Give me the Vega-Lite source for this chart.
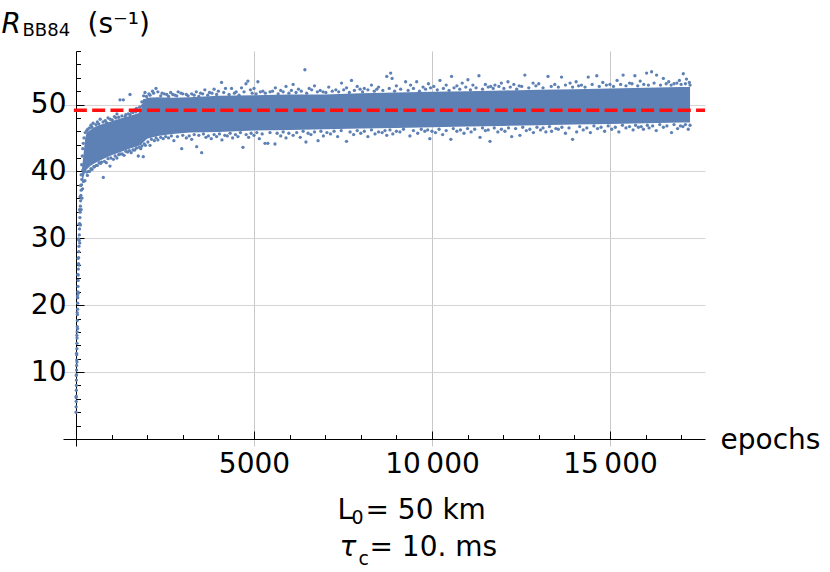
{
  "$schema": "https://vega.github.io/schema/vega-lite/v6.json",
  "width": 642,
  "height": 395,
  "autosize": {"type": "none"},
  "padding": {"left": 63, "top": 51, "right": 125, "bottom": 126},
  "background": "white",
  "config": {
    "view": {"stroke": null},
    "font": "DejaVu Sans",
    "axis": {"labelFont": "DejaVu Sans", "titleFont": "DejaVu Sans", "labelColor": "black", "titleColor": "black", "tickColor": "black", "domainColor": "black", "titleFontWeight": "normal"}
  },
  "datasets": {
    "band": [
      {"epoch": 170, "lo": 38.0, "hi": 40.5},
      {"epoch": 220, "lo": 39.3, "hi": 43.0},
      {"epoch": 260, "lo": 39.9, "hi": 45.0},
      {"epoch": 300, "lo": 40.3, "hi": 45.8},
      {"epoch": 400, "lo": 40.8, "hi": 46.2},
      {"epoch": 550, "lo": 41.3, "hi": 46.7},
      {"epoch": 750, "lo": 41.8, "hi": 47.1},
      {"epoch": 1000, "lo": 42.4, "hi": 47.5},
      {"epoch": 1250, "lo": 42.9, "hi": 47.9},
      {"epoch": 1500, "lo": 43.4, "hi": 48.3},
      {"epoch": 1750, "lo": 43.8, "hi": 48.7},
      {"epoch": 1830, "lo": 44.0, "hi": 49.2},
      {"epoch": 1880, "lo": 44.3, "hi": 50.6},
      {"epoch": 2000, "lo": 44.9, "hi": 51.0},
      {"epoch": 2300, "lo": 45.3, "hi": 51.1},
      {"epoch": 2700, "lo": 45.6, "hi": 51.0},
      {"epoch": 3200, "lo": 45.8, "hi": 51.1},
      {"epoch": 4000, "lo": 45.9, "hi": 51.3},
      {"epoch": 5000, "lo": 46.1, "hi": 51.4},
      {"epoch": 6000, "lo": 46.2, "hi": 51.5},
      {"epoch": 7000, "lo": 46.3, "hi": 51.5},
      {"epoch": 8000, "lo": 46.4, "hi": 51.7},
      {"epoch": 9000, "lo": 46.5, "hi": 51.8},
      {"epoch": 10000, "lo": 46.6, "hi": 51.9},
      {"epoch": 11000, "lo": 46.7, "hi": 52.0},
      {"epoch": 12000, "lo": 46.8, "hi": 52.1},
      {"epoch": 13000, "lo": 46.9, "hi": 52.2},
      {"epoch": 14000, "lo": 47.0, "hi": 52.3},
      {"epoch": 15000, "lo": 47.1, "hi": 52.4},
      {"epoch": 16000, "lo": 47.2, "hi": 52.5},
      {"epoch": 17000, "lo": 47.3, "hi": 52.6},
      {"epoch": 17250, "lo": 47.3, "hi": 52.6}
    ],
    "edgeHigh": [
      {"epoch": 260, "rate": 45.8}, {"epoch": 330, "rate": 46.3}, {"epoch": 420, "rate": 46.9}, {"epoch": 480, "rate": 47.2},
      {"epoch": 600, "rate": 47.4}, {"epoch": 680, "rate": 47.8}, {"epoch": 820, "rate": 47.6}, {"epoch": 900, "rate": 48.0},
      {"epoch": 1080, "rate": 48.2}, {"epoch": 1150, "rate": 48.6}, {"epoch": 1236, "rate": 50.7}, {"epoch": 1330, "rate": 50.7},
      {"epoch": 1400, "rate": 48.5}, {"epoch": 1517, "rate": 51.5}, {"epoch": 1560, "rate": 48.9}, {"epoch": 1650, "rate": 49.2},
      {"epoch": 1700, "rate": 49.4}, {"epoch": 1790, "rate": 49.6}, {"epoch": 1850, "rate": 50.4}, {"epoch": 1900, "rate": 51.3},
      {"epoch": 1938, "rate": 51.8}, {"epoch": 2050, "rate": 51.6}, {"epoch": 2150, "rate": 52.0}, {"epoch": 2247, "rate": 52.4},
      {"epoch": 2300, "rate": 51.9}, {"epoch": 2420, "rate": 51.7}, {"epoch": 2550, "rate": 51.5}, {"epoch": 2660, "rate": 51.8},
      {"epoch": 2780, "rate": 51.4}, {"epoch": 2870, "rate": 51.9}, {"epoch": 2950, "rate": 51.7}, {"epoch": 3100, "rate": 51.5},
      {"epoch": 3250, "rate": 51.6}, {"epoch": 3380, "rate": 51.9}, {"epoch": 3500, "rate": 51.7}, {"epoch": 3620, "rate": 52.2},
      {"epoch": 3750, "rate": 51.8}, {"epoch": 3880, "rate": 52.3}, {"epoch": 4000, "rate": 52.0}, {"epoch": 4090, "rate": 53.3},
      {"epoch": 4200, "rate": 52.4}, {"epoch": 4370, "rate": 52.4}, {"epoch": 4500, "rate": 51.9}, {"epoch": 4650, "rate": 52.5},
      {"epoch": 4775, "rate": 53.1}, {"epoch": 4830, "rate": 53.5}, {"epoch": 4900, "rate": 52.2}, {"epoch": 5000, "rate": 52.4},
      {"epoch": 5110, "rate": 53.4}, {"epoch": 5250, "rate": 52.0}, {"epoch": 5450, "rate": 51.9}, {"epoch": 5600, "rate": 52.5},
      {"epoch": 5750, "rate": 52.1}, {"epoch": 5900, "rate": 52.7}, {"epoch": 6100, "rate": 53.0}, {"epoch": 6250, "rate": 52.3},
      {"epoch": 6430, "rate": 55.2}, {"epoch": 6550, "rate": 52.4}, {"epoch": 6700, "rate": 52.8}, {"epoch": 6940, "rate": 51.9},
      {"epoch": 7100, "rate": 52.6}, {"epoch": 7300, "rate": 52.2}, {"epoch": 7460, "rate": 53.2}, {"epoch": 7600, "rate": 52.5},
      {"epoch": 7740, "rate": 53.6}, {"epoch": 7900, "rate": 52.7}, {"epoch": 8100, "rate": 52.4}, {"epoch": 8300, "rate": 52.9},
      {"epoch": 8500, "rate": 52.6}, {"epoch": 8730, "rate": 54.2}, {"epoch": 8840, "rate": 54.7}, {"epoch": 8880, "rate": 53.9},
      {"epoch": 9000, "rate": 52.8}, {"epoch": 9260, "rate": 53.4}, {"epoch": 9400, "rate": 52.9}, {"epoch": 9570, "rate": 53.4},
      {"epoch": 9750, "rate": 52.6}, {"epoch": 9900, "rate": 53.1}, {"epoch": 10050, "rate": 52.7}, {"epoch": 10225, "rate": 53.6},
      {"epoch": 10400, "rate": 52.9}, {"epoch": 10550, "rate": 54.2}, {"epoch": 10700, "rate": 52.8}, {"epoch": 10850, "rate": 53.2},
      {"epoch": 11010, "rate": 53.7}, {"epoch": 11150, "rate": 52.9}, {"epoch": 11320, "rate": 54.3}, {"epoch": 11500, "rate": 53.0},
      {"epoch": 11650, "rate": 52.7}, {"epoch": 11770, "rate": 52.9}, {"epoch": 11950, "rate": 53.2}, {"epoch": 12135, "rate": 53.4},
      {"epoch": 12300, "rate": 53.0}, {"epoch": 12450, "rate": 52.8}, {"epoch": 12610, "rate": 54.4}, {"epoch": 12840, "rate": 53.2},
      {"epoch": 13000, "rate": 53.1}, {"epoch": 13260, "rate": 54.2}, {"epoch": 13450, "rate": 53.0}, {"epoch": 13640, "rate": 54.1},
      {"epoch": 13880, "rate": 53.2}, {"epoch": 14050, "rate": 53.4}, {"epoch": 14200, "rate": 52.9}, {"epoch": 14390, "rate": 54.1},
      {"epoch": 14630, "rate": 54.3}, {"epoch": 14800, "rate": 53.3}, {"epoch": 15000, "rate": 53.0}, {"epoch": 15200, "rate": 53.6},
      {"epoch": 15370, "rate": 54.4}, {"epoch": 15550, "rate": 53.2}, {"epoch": 15700, "rate": 54.3}, {"epoch": 15850, "rate": 53.5},
      {"epoch": 16030, "rate": 54.7}, {"epoch": 16170, "rate": 54.9}, {"epoch": 16310, "rate": 54.4}, {"epoch": 16500, "rate": 53.9},
      {"epoch": 16650, "rate": 53.4}, {"epoch": 16800, "rate": 53.1}, {"epoch": 16950, "rate": 53.6}, {"epoch": 17060, "rate": 54.6},
      {"epoch": 17150, "rate": 53.8}, {"epoch": 17230, "rate": 53.3},
      {"epoch": 300, "rate": 46.1}, {"epoch": 380, "rate": 46.5}, {"epoch": 450, "rate": 46.6}, {"epoch": 560, "rate": 47.0},
      {"epoch": 640, "rate": 47.1}, {"epoch": 760, "rate": 47.4}, {"epoch": 860, "rate": 47.3}, {"epoch": 960, "rate": 47.8},
      {"epoch": 1020, "rate": 47.7}, {"epoch": 1120, "rate": 48.0}, {"epoch": 1200, "rate": 48.1}, {"epoch": 1290, "rate": 48.3},
      {"epoch": 1380, "rate": 48.2}, {"epoch": 1470, "rate": 48.6}, {"epoch": 1520, "rate": 48.5}, {"epoch": 1600, "rate": 48.8},
      {"epoch": 1680, "rate": 48.9}, {"epoch": 1760, "rate": 49.1}, {"epoch": 1860, "rate": 49.8}, {"epoch": 1920, "rate": 50.6},
      {"epoch": 1980, "rate": 51.2}, {"epoch": 2080, "rate": 51.4}, {"epoch": 2180, "rate": 51.7}, {"epoch": 2380, "rate": 51.3},
      {"epoch": 2480, "rate": 51.6}, {"epoch": 2600, "rate": 51.2}, {"epoch": 2720, "rate": 51.5}, {"epoch": 2830, "rate": 51.3},
      {"epoch": 3000, "rate": 51.6}, {"epoch": 3150, "rate": 51.3}, {"epoch": 3320, "rate": 51.4}, {"epoch": 3450, "rate": 51.2},
      {"epoch": 3560, "rate": 51.6}, {"epoch": 3700, "rate": 51.4}, {"epoch": 3820, "rate": 51.7}, {"epoch": 3950, "rate": 51.5},
      {"epoch": 4150, "rate": 51.8}, {"epoch": 4300, "rate": 51.5}, {"epoch": 4450, "rate": 51.7}, {"epoch": 4580, "rate": 51.4},
      {"epoch": 4720, "rate": 51.9}, {"epoch": 4950, "rate": 51.7}, {"epoch": 5060, "rate": 51.6}, {"epoch": 5180, "rate": 51.9},
      {"epoch": 5320, "rate": 51.7}, {"epoch": 5520, "rate": 52.0}, {"epoch": 5680, "rate": 51.6}, {"epoch": 5820, "rate": 51.9},
      {"epoch": 5980, "rate": 51.7}, {"epoch": 6050, "rate": 52.1}, {"epoch": 6180, "rate": 51.8}, {"epoch": 6330, "rate": 52.0},
      {"epoch": 6480, "rate": 51.7}, {"epoch": 6620, "rate": 52.2}, {"epoch": 6780, "rate": 51.9}, {"epoch": 6860, "rate": 52.1},
      {"epoch": 7020, "rate": 51.8}, {"epoch": 7200, "rate": 52.0}, {"epoch": 7380, "rate": 51.9}, {"epoch": 7520, "rate": 52.2},
      {"epoch": 7680, "rate": 51.8}, {"epoch": 7820, "rate": 52.1}, {"epoch": 7980, "rate": 52.3}, {"epoch": 8050, "rate": 51.9},
      {"epoch": 8200, "rate": 52.2}, {"epoch": 8380, "rate": 52.0}, {"epoch": 8450, "rate": 52.3}, {"epoch": 8620, "rate": 52.1},
      {"epoch": 8800, "rate": 52.4}, {"epoch": 8950, "rate": 52.0}, {"epoch": 9120, "rate": 52.3}, {"epoch": 9330, "rate": 52.1},
      {"epoch": 9480, "rate": 52.4}, {"epoch": 9650, "rate": 52.0}, {"epoch": 9820, "rate": 52.3}, {"epoch": 9960, "rate": 52.5},
      {"epoch": 10150, "rate": 52.2}, {"epoch": 10320, "rate": 52.4}, {"epoch": 10480, "rate": 52.1}, {"epoch": 10620, "rate": 52.5},
      {"epoch": 10780, "rate": 52.3}, {"epoch": 10950, "rate": 52.6}, {"epoch": 11080, "rate": 52.2}, {"epoch": 11240, "rate": 52.5},
      {"epoch": 11420, "rate": 52.3}, {"epoch": 11580, "rate": 52.6}, {"epoch": 11720, "rate": 52.4}, {"epoch": 11880, "rate": 52.7},
      {"epoch": 12020, "rate": 52.4}, {"epoch": 12200, "rate": 52.6}, {"epoch": 12380, "rate": 52.3}, {"epoch": 12520, "rate": 52.7},
      {"epoch": 12720, "rate": 52.5}, {"epoch": 12920, "rate": 52.8}, {"epoch": 13120, "rate": 52.5}, {"epoch": 13350, "rate": 52.7},
      {"epoch": 13550, "rate": 52.6}, {"epoch": 13750, "rate": 52.9}, {"epoch": 13950, "rate": 52.6}, {"epoch": 14120, "rate": 52.8},
      {"epoch": 14300, "rate": 52.6}, {"epoch": 14500, "rate": 53.0}, {"epoch": 14700, "rate": 52.7}, {"epoch": 14900, "rate": 52.9},
      {"epoch": 15100, "rate": 52.7}, {"epoch": 15300, "rate": 53.0}, {"epoch": 15450, "rate": 52.8}, {"epoch": 15620, "rate": 53.1},
      {"epoch": 15780, "rate": 52.8}, {"epoch": 15950, "rate": 53.0}, {"epoch": 16080, "rate": 52.9}, {"epoch": 16240, "rate": 53.2},
      {"epoch": 16420, "rate": 52.9}, {"epoch": 16580, "rate": 53.1}, {"epoch": 16720, "rate": 52.9}, {"epoch": 16880, "rate": 53.2},
      {"epoch": 17000, "rate": 53.0}, {"epoch": 17120, "rate": 53.1}, {"epoch": 17250, "rate": 52.9}
    ],
    "edgeLow": [
      {"epoch": 250, "rate": 38.6}, {"epoch": 320, "rate": 39.4}, {"epoch": 380, "rate": 40.0}, {"epoch": 450, "rate": 40.3},
      {"epoch": 520, "rate": 40.7}, {"epoch": 600, "rate": 40.9}, {"epoch": 690, "rate": 41.2}, {"epoch": 768, "rate": 39.1},
      {"epoch": 850, "rate": 41.3}, {"epoch": 955, "rate": 40.8}, {"epoch": 1050, "rate": 41.8}, {"epoch": 1150, "rate": 42.0},
      {"epoch": 1236, "rate": 42.6}, {"epoch": 1350, "rate": 42.4}, {"epoch": 1450, "rate": 42.9}, {"epoch": 1550, "rate": 42.8},
      {"epoch": 1650, "rate": 43.2}, {"epoch": 1750, "rate": 42.3}, {"epoch": 1820, "rate": 43.4}, {"epoch": 1890, "rate": 42.2},
      {"epoch": 1950, "rate": 43.9}, {"epoch": 2080, "rate": 43.9}, {"epoch": 2200, "rate": 44.6}, {"epoch": 2300, "rate": 44.7},
      {"epoch": 2450, "rate": 44.9}, {"epoch": 2600, "rate": 45.0}, {"epoch": 2750, "rate": 44.6}, {"epoch": 2970, "rate": 43.4},
      {"epoch": 3100, "rate": 45.0}, {"epoch": 3250, "rate": 44.8}, {"epoch": 3390, "rate": 43.7}, {"epoch": 3530, "rate": 42.8},
      {"epoch": 3650, "rate": 45.1}, {"epoch": 3800, "rate": 44.9}, {"epoch": 3950, "rate": 45.2}, {"epoch": 4100, "rate": 44.7},
      {"epoch": 4250, "rate": 45.3}, {"epoch": 4400, "rate": 45.0}, {"epoch": 4550, "rate": 45.2}, {"epoch": 4690, "rate": 43.6},
      {"epoch": 4850, "rate": 45.1}, {"epoch": 5000, "rate": 45.4}, {"epoch": 5150, "rate": 44.9}, {"epoch": 5310, "rate": 44.2},
      {"epoch": 5390, "rate": 44.2}, {"epoch": 5590, "rate": 44.1}, {"epoch": 5750, "rate": 45.3}, {"epoch": 5900, "rate": 45.0},
      {"epoch": 6100, "rate": 45.4}, {"epoch": 6300, "rate": 45.1}, {"epoch": 6460, "rate": 44.4}, {"epoch": 6600, "rate": 45.5},
      {"epoch": 6800, "rate": 44.6}, {"epoch": 6950, "rate": 45.3}, {"epoch": 7150, "rate": 45.6}, {"epoch": 7350, "rate": 45.2},
      {"epoch": 7600, "rate": 44.5}, {"epoch": 7800, "rate": 45.5}, {"epoch": 8000, "rate": 45.7}, {"epoch": 8200, "rate": 45.2},
      {"epoch": 8400, "rate": 45.6}, {"epoch": 8600, "rate": 45.8}, {"epoch": 8730, "rate": 45.4}, {"epoch": 8900, "rate": 45.6},
      {"epoch": 9100, "rate": 45.9}, {"epoch": 9380, "rate": 45.3}, {"epoch": 9600, "rate": 45.7}, {"epoch": 9800, "rate": 46.0},
      {"epoch": 9940, "rate": 44.9}, {"epoch": 10100, "rate": 45.8}, {"epoch": 10300, "rate": 45.5}, {"epoch": 10530, "rate": 44.8},
      {"epoch": 10700, "rate": 46.0}, {"epoch": 10900, "rate": 45.7}, {"epoch": 11100, "rate": 45.9}, {"epoch": 11350, "rate": 45.1},
      {"epoch": 11500, "rate": 46.1}, {"epoch": 11630, "rate": 44.5}, {"epoch": 11850, "rate": 45.9}, {"epoch": 12050, "rate": 46.0},
      {"epoch": 12240, "rate": 45.2}, {"epoch": 12470, "rate": 45.4}, {"epoch": 12650, "rate": 46.1}, {"epoch": 12850, "rate": 45.8},
      {"epoch": 13050, "rate": 46.2}, {"epoch": 13200, "rate": 45.9}, {"epoch": 13360, "rate": 46.0}, {"epoch": 13550, "rate": 46.3},
      {"epoch": 13750, "rate": 45.7}, {"epoch": 13950, "rate": 44.8}, {"epoch": 14065, "rate": 45.9}, {"epoch": 14250, "rate": 46.2},
      {"epoch": 14450, "rate": 45.8}, {"epoch": 14650, "rate": 46.4}, {"epoch": 14850, "rate": 46.0}, {"epoch": 15050, "rate": 46.3},
      {"epoch": 15250, "rate": 45.9}, {"epoch": 15450, "rate": 46.5}, {"epoch": 15650, "rate": 46.2}, {"epoch": 15800, "rate": 46.6},
      {"epoch": 15940, "rate": 46.3}, {"epoch": 16100, "rate": 46.5}, {"epoch": 16300, "rate": 46.1}, {"epoch": 16500, "rate": 46.6},
      {"epoch": 16730, "rate": 45.8}, {"epoch": 16900, "rate": 46.4}, {"epoch": 17050, "rate": 46.7}, {"epoch": 17200, "rate": 46.3},
      {"epoch": 300, "rate": 39.9}, {"epoch": 350, "rate": 40.0}, {"epoch": 420, "rate": 40.4}, {"epoch": 500, "rate": 40.7},
      {"epoch": 570, "rate": 40.9}, {"epoch": 650, "rate": 41.3}, {"epoch": 720, "rate": 41.4}, {"epoch": 800, "rate": 41.5},
      {"epoch": 900, "rate": 41.9}, {"epoch": 980, "rate": 42.0}, {"epoch": 1100, "rate": 42.3}, {"epoch": 1200, "rate": 42.5},
      {"epoch": 1300, "rate": 42.6}, {"epoch": 1400, "rate": 43.0}, {"epoch": 1500, "rate": 43.1}, {"epoch": 1600, "rate": 43.2},
      {"epoch": 1700, "rate": 43.5}, {"epoch": 1780, "rate": 43.6}, {"epoch": 1850, "rate": 43.8}, {"epoch": 1920, "rate": 44.1},
      {"epoch": 2020, "rate": 44.4}, {"epoch": 2120, "rate": 44.8}, {"epoch": 2250, "rate": 45.0}, {"epoch": 2380, "rate": 45.1},
      {"epoch": 2520, "rate": 45.2}, {"epoch": 2680, "rate": 45.3}, {"epoch": 2850, "rate": 45.2}, {"epoch": 3000, "rate": 45.4},
      {"epoch": 3180, "rate": 45.3}, {"epoch": 3320, "rate": 45.5}, {"epoch": 3450, "rate": 45.4}, {"epoch": 3580, "rate": 45.6},
      {"epoch": 3720, "rate": 45.3}, {"epoch": 3880, "rate": 45.5}, {"epoch": 4030, "rate": 45.6}, {"epoch": 4180, "rate": 45.4},
      {"epoch": 4330, "rate": 45.7}, {"epoch": 4480, "rate": 45.5}, {"epoch": 4620, "rate": 45.8}, {"epoch": 4780, "rate": 45.5},
      {"epoch": 4920, "rate": 45.7}, {"epoch": 5080, "rate": 45.8}, {"epoch": 5230, "rate": 45.6}, {"epoch": 5450, "rate": 45.8},
      {"epoch": 5650, "rate": 45.7}, {"epoch": 5820, "rate": 45.9}, {"epoch": 5980, "rate": 45.7}, {"epoch": 6200, "rate": 45.8},
      {"epoch": 6380, "rate": 46.0}, {"epoch": 6520, "rate": 45.7}, {"epoch": 6700, "rate": 45.9}, {"epoch": 6880, "rate": 46.0},
      {"epoch": 7050, "rate": 45.8}, {"epoch": 7250, "rate": 46.0}, {"epoch": 7450, "rate": 46.1}, {"epoch": 7700, "rate": 45.9},
      {"epoch": 7900, "rate": 46.1}, {"epoch": 8100, "rate": 46.0}, {"epoch": 8300, "rate": 46.2}, {"epoch": 8500, "rate": 45.9},
      {"epoch": 8680, "rate": 46.1}, {"epoch": 8820, "rate": 46.2}, {"epoch": 9000, "rate": 46.0}, {"epoch": 9200, "rate": 46.3},
      {"epoch": 9480, "rate": 46.1}, {"epoch": 9700, "rate": 46.3}, {"epoch": 9880, "rate": 46.2}, {"epoch": 10000, "rate": 46.0},
      {"epoch": 10200, "rate": 46.3}, {"epoch": 10400, "rate": 46.1}, {"epoch": 10600, "rate": 46.4}, {"epoch": 10800, "rate": 46.2},
      {"epoch": 11000, "rate": 46.4}, {"epoch": 11200, "rate": 46.3}, {"epoch": 11420, "rate": 46.5}, {"epoch": 11580, "rate": 46.2},
      {"epoch": 11750, "rate": 46.5}, {"epoch": 11950, "rate": 46.3}, {"epoch": 12150, "rate": 46.5}, {"epoch": 12350, "rate": 46.4},
      {"epoch": 12550, "rate": 46.6}, {"epoch": 12750, "rate": 46.3}, {"epoch": 12950, "rate": 46.6}, {"epoch": 13120, "rate": 46.5},
      {"epoch": 13300, "rate": 46.7}, {"epoch": 13480, "rate": 46.4}, {"epoch": 13650, "rate": 46.6}, {"epoch": 13850, "rate": 46.5},
      {"epoch": 14150, "rate": 46.7}, {"epoch": 14350, "rate": 46.5}, {"epoch": 14550, "rate": 46.8}, {"epoch": 14750, "rate": 46.6},
      {"epoch": 14950, "rate": 46.8}, {"epoch": 15150, "rate": 46.6}, {"epoch": 15350, "rate": 46.9}, {"epoch": 15550, "rate": 46.7},
      {"epoch": 15720, "rate": 46.9}, {"epoch": 15880, "rate": 46.7}, {"epoch": 16050, "rate": 46.9}, {"epoch": 16200, "rate": 46.8},
      {"epoch": 16400, "rate": 47.0}, {"epoch": 16600, "rate": 46.8}, {"epoch": 16800, "rate": 47.0}, {"epoch": 16980, "rate": 46.8},
      {"epoch": 17120, "rate": 47.0}, {"epoch": 17250, "rate": 46.9}
    ],
    "ramp": [
      {"epoch": 2, "rate": 4.0}, {"epoch": 4, "rate": 4.8}, {"epoch": 5, "rate": 5.6}, {"epoch": 7, "rate": 6.4},
      {"epoch": 9, "rate": 7.3}, {"epoch": 10, "rate": 8.0}, {"epoch": 12, "rate": 8.8}, {"epoch": 14, "rate": 9.6},
      {"epoch": 16, "rate": 10.3}, {"epoch": 18, "rate": 11.0}, {"epoch": 20, "rate": 11.8}, {"epoch": 22, "rate": 12.6},
      {"epoch": 25, "rate": 13.5}, {"epoch": 27, "rate": 14.3}, {"epoch": 30, "rate": 15.1}, {"epoch": 32, "rate": 16.0},
      {"epoch": 35, "rate": 16.8}, {"epoch": 38, "rate": 17.7}, {"epoch": 41, "rate": 18.6}, {"epoch": 44, "rate": 19.4},
      {"epoch": 47, "rate": 20.3}, {"epoch": 50, "rate": 21.1}, {"epoch": 53, "rate": 22.0}, {"epoch": 56, "rate": 22.8},
      {"epoch": 60, "rate": 23.7}, {"epoch": 63, "rate": 24.5}, {"epoch": 67, "rate": 25.4}, {"epoch": 71, "rate": 26.2},
      {"epoch": 75, "rate": 27.1}, {"epoch": 79, "rate": 28.0}, {"epoch": 83, "rate": 28.8}, {"epoch": 88, "rate": 29.7},
      {"epoch": 93, "rate": 30.5}, {"epoch": 98, "rate": 31.4}, {"epoch": 104, "rate": 32.2}, {"epoch": 110, "rate": 33.1},
      {"epoch": 116, "rate": 33.9}, {"epoch": 123, "rate": 34.8}, {"epoch": 130, "rate": 35.6}, {"epoch": 138, "rate": 36.4},
      {"epoch": 146, "rate": 37.2}, {"epoch": 155, "rate": 38.0}, {"epoch": 165, "rate": 38.8}, {"epoch": 176, "rate": 39.5},
      {"epoch": 190, "rate": 40.2},
      {"epoch": 3, "rate": 6.2}, {"epoch": 8, "rate": 9.5}, {"epoch": 15, "rate": 12.8}, {"epoch": 24, "rate": 15.5},
      {"epoch": 33, "rate": 18.9}, {"epoch": 42, "rate": 21.4}, {"epoch": 52, "rate": 24.6}, {"epoch": 62, "rate": 27.0},
      {"epoch": 74, "rate": 29.9}, {"epoch": 86, "rate": 32.1}, {"epoch": 100, "rate": 34.3}, {"epoch": 115, "rate": 36.2},
      {"epoch": 130, "rate": 37.9}, {"epoch": 145, "rate": 39.5}, {"epoch": 160, "rate": 41.0}, {"epoch": 175, "rate": 42.3},
      {"epoch": 190, "rate": 43.4}, {"epoch": 205, "rate": 44.2}, {"epoch": 225, "rate": 45.0},
      {"epoch": 28, "rate": 11.5}, {"epoch": 45, "rate": 16.5}, {"epoch": 65, "rate": 21.8}, {"epoch": 85, "rate": 26.0},
      {"epoch": 105, "rate": 29.3}, {"epoch": 125, "rate": 32.0}, {"epoch": 145, "rate": 34.3}, {"epoch": 165, "rate": 36.0},
      {"epoch": 185, "rate": 37.4}, {"epoch": 210, "rate": 38.5}
    ],
    "ref": [
      {"level": 49.15, "from": -60, "to": 17670}
    ]
  },
  "layer": [
    {
      "data": {"name": "band"},
      "mark": {"type": "area", "color": "#5E81B5", "opacity": 1},
      "encoding": {
        "x": {
          "field": "epoch", "type": "quantitative",
          "scale": {"domain": [-365, 17670], "nice": false, "zero": false},
          "axis": {
            "orient": "bottom", "offset": -7, "values": [5000, 10000, 15000],
            "tickSize": -8, "tickWidth": 1, "domain": true, "domainWidth": 1,
            "grid": true, "gridColor": "#c8c8c8", "gridWidth": 1,
            "labelFontSize": 28, "labelPadding": 19, "labelFlush": false, "labelOverlap": false,
            "labelExpr": "datum.value >= 10000 ? replace(format(datum.value, ','), ',', '\u2009') : format(datum.value, 'd')",
            "title": "epochs", "titleFontSize": 28, "titleAngle": 0,
            "titleX": 657, "titleY": 9, "titleAlign": "left", "titleBaseline": "alphabetic"
          }
        },
        "y": {
          "field": "hi", "type": "quantitative",
          "scale": {"domain": [-1.05, 58], "nice": false, "zero": false},
          "axis": {
            "orient": "left", "offset": -13, "values": [10, 20, 30, 40, 50],
            "tickSize": -8, "tickWidth": 1, "domain": true, "domainWidth": 1,
            "grid": true, "gridColor": "#d4d4d4", "gridWidth": 1,
            "labelFontSize": 28, "labelPadding": 18, "labelFlush": false, "labelOverlap": false,
            "title": "R", "titleFontStyle": "italic", "titleFontSize": 28, "titleAngle": 0,
            "titleX": -75, "titleY": -19, "titleAlign": "left", "titleBaseline": "alphabetic"
          }
        },
        "y2": {"field": "lo"}
      }
    },
    {
      "data": {"name": "edgeHigh"},
      "mark": {"type": "circle", "color": "#5E81B5", "opacity": 1, "size": 11},
      "encoding": {
        "x": {
          "field": "epoch", "type": "quantitative",
          "scale": {"domain": [-365, 17670], "nice": false, "zero": false},
          "axis": {
            "orient": "bottom", "offset": -7,
            "values": [1000, 2000, 3000, 4000, 6000, 7000, 8000, 9000, 11000, 12000, 13000, 14000, 16000, 17000],
            "tickSize": -4.5, "tickWidth": 1, "labels": false, "domain": false, "grid": false,
            "title": "L", "titleFontSize": 28, "titleAngle": 0,
            "titleX": 274, "titleY": 79, "titleAlign": "left", "titleBaseline": "alphabetic"
          }
        },
        "y": {
          "field": "rate", "type": "quantitative",
          "scale": {"domain": [-1.05, 58], "nice": false, "zero": false},
          "axis": {
            "orient": "left", "offset": -13,
            "values": [2, 4, 6, 8, 12, 14, 16, 18, 22, 24, 26, 28, 32, 34, 36, 38, 42, 44, 46, 48, 52, 54, 56, 58],
            "tickSize": -4.5, "tickWidth": 1, "labels": false, "domain": false, "grid": false,
            "title": "BB84", "titleFontSize": 18, "titleAngle": 0,
            "titleX": -54, "titleY": -16, "titleAlign": "left", "titleBaseline": "alphabetic"
          }
        }
      }
    },
    {
      "data": {"name": "edgeLow"},
      "mark": {"type": "circle", "color": "#5E81B5", "opacity": 1, "size": 11},
      "encoding": {
        "x": {
          "field": "epoch", "type": "quantitative",
          "scale": {"domain": [-365, 17670], "nice": false, "zero": false},
          "axis": {
            "orient": "bottom", "offset": -7, "ticks": false, "labels": false, "domain": false, "grid": false,
            "title": "= 50 km", "titleFontSize": 28, "titleAngle": 0,
            "titleX": 302, "titleY": 79, "titleAlign": "left", "titleBaseline": "alphabetic"
          }
        },
        "y": {
          "field": "rate", "type": "quantitative",
          "scale": {"domain": [-1.05, 58], "nice": false, "zero": false},
          "axis": {
            "orient": "left", "offset": -13, "ticks": false, "labels": false, "domain": false, "grid": false,
            "title": "0", "titleFontSize": 19, "titleAngle": 0,
            "titleX": 275, "titleY": 472, "titleAlign": "left", "titleBaseline": "alphabetic"
          }
        }
      }
    },
    {
      "data": {"name": "ramp"},
      "mark": {"type": "circle", "color": "#5E81B5", "opacity": 1, "size": 11},
      "encoding": {
        "x": {
          "field": "epoch", "type": "quantitative",
          "scale": {"domain": [-365, 17670], "nice": false, "zero": false},
          "axis": {
            "orient": "bottom", "offset": -7, "ticks": false, "labels": false, "domain": false, "grid": false,
            "title": "c", "titleFontSize": 19, "titleAngle": 0,
            "titleX": 295, "titleY": 125, "titleAlign": "left", "titleBaseline": "alphabetic"
          }
        },
        "y": {
          "field": "rate", "type": "quantitative",
          "scale": {"domain": [-1.05, 58], "nice": false, "zero": false},
          "axis": {
            "orient": "left", "offset": -13, "ticks": false, "labels": false, "domain": false, "grid": false,
            "title": "τ", "titleFontStyle": "italic", "titleFontSize": 28, "titleAngle": 0,
            "titleX": 263, "titleY": 504, "titleAlign": "left", "titleBaseline": "alphabetic"
          }
        }
      }
    },
    {
      "data": {"name": "ref"},
      "mark": {"type": "rule", "color": "#ff1010", "strokeWidth": 3.5, "strokeDash": [13, 5.3]},
      "encoding": {
        "x": {
          "field": "from", "type": "quantitative",
          "scale": {"domain": [-365, 17670], "nice": false, "zero": false},
          "axis": {
            "orient": "bottom", "offset": -7, "ticks": false, "labels": false, "domain": false, "grid": false,
            "title": "= 10. ms", "titleFontSize": 28, "titleAngle": 0,
            "titleX": 306, "titleY": 116, "titleAlign": "left", "titleBaseline": "alphabetic"
          }
        },
        "x2": {"field": "to"},
        "y": {
          "field": "level", "type": "quantitative",
          "scale": {"domain": [-1.05, 58], "nice": false, "zero": false},
          "axis": {
            "orient": "left", "offset": -13, "ticks": false, "labels": false, "domain": false, "grid": false,
            "title": "(s⁻¹)", "titleFontSize": 28, "titleAngle": 0,
            "titleX": 11, "titleY": -19, "titleAlign": "left", "titleBaseline": "alphabetic"
          }
        }
      }
    }
  ],
  "resolve": {"axis": {"x": "independent", "y": "independent"}}
}
